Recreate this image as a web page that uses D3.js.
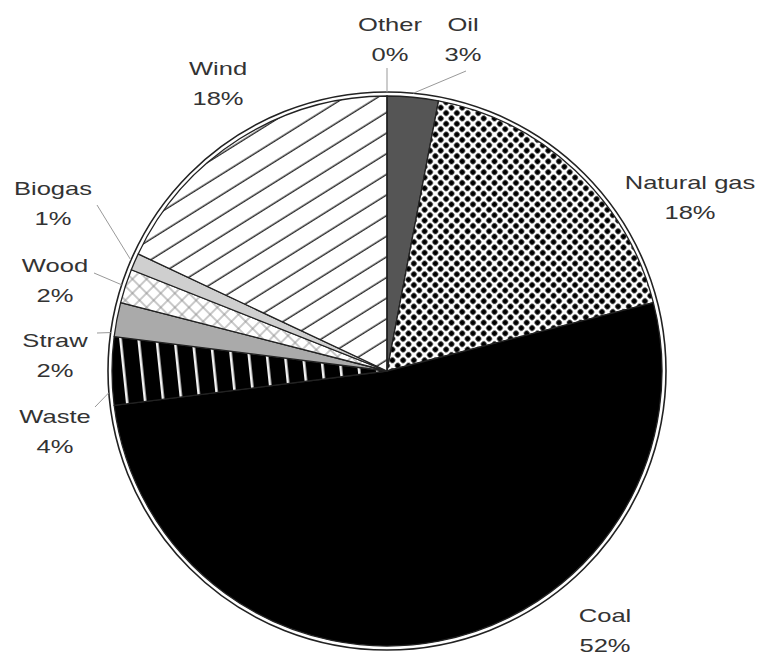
<!DOCTYPE html>
<html>
<head>
<meta charset="utf-8">
<script src="https://cdn.jsdelivr.net/npm/d3@7"></script>
<style>
  html, body { margin: 0; padding: 0; background: #fff; }
  svg { display: block; }
  text { font-family: "Liberation Sans", Arial, sans-serif; fill: #333; }
</style>
</head>
<body>
<svg id="chart" width="760" height="655"></svg>
<script>
// Electricity generation by fuel (share, %), clockwise from 12 o'clock
const categories = ["Oil", "Natural gas", "Coal", "Waste", "Straw", "Wood", "Biogas", "Wind", "Other"];
const shares = [3, 18, 52, 4, 2, 2, 1, 18, 0];
const shareLabels = ["3%", "18%", "52%", "4%", "2%", "2%", "1%", "18%", "0%"];

// Fill of each slice (solid colours or hatch patterns defined below)
const fills = {
  "Oil": "#555",
  "Natural gas": "url(#gasDots)",
  "Coal": "#000",
  "Waste": "url(#wasteStripes)",
  "Straw": "#aaa",
  "Wood": "url(#woodHatch)",
  "Biogas": "#cfcfcf",
  "Wind": "url(#windLines)",
  "Other": "#fff"
};

// Label placement: text centre x, first baseline y, optional leader
// (lx, ly = leader start near the text; t = position of the leader end within the slice)
const labelLayout = {
  "Other":       { x: 390, y: 31 , lx: 387, ly: 68, t: 0.5 },
  "Oil":         { x: 463, y: 31 , lx: 466, ly: 71, t: 0.5 },
  "Natural gas": { x: 690, y: 189 },
  "Coal":        { x: 605, y: 622 },
  "Waste":       { x: 55,  y: 423, lx: 95, ly: 407, t: 0.19 },
  "Straw":       { x: 55,  y: 347, lx: 97, ly: 333, t: 0.1 },
  "Wood":        { x: 55,  y: 272, lx: 94, ly: 273, t: 0.5 },
  "Biogas":      { x: 53,  y: 195, lx: 97, ly: 205, t: 0.5 },
  "Wind":        { x: 218, y: 75 }
};

const cx = 387, cy = 371;
const rSlice = 275, rOuter = 279;
const lineGap = 30, textScaleX = 1.42;

const svg = d3.select("#chart");
const defs = svg.append("defs");

// Natural gas: dark dots on a 45° grid
const gp = 7.6;
const gas = defs.append("pattern").attr("id", "gasDots")
  .attr("patternUnits", "userSpaceOnUse").attr("width", gp).attr("height", gp)
  .attr("patternTransform", "rotate(45)");
gas.append("rect").attr("width", gp).attr("height", gp).attr("fill", "#fff");
gas.append("rect").attr("x", 1.2).attr("y", 1.2).attr("width", gp - 2.4).attr("height", gp - 2.4)
  .attr("rx", 1.6).attr("fill", "#000");

// Waste: white near-vertical stripes on black
const waste = defs.append("pattern").attr("id", "wasteStripes")
  .attr("patternUnits", "userSpaceOnUse").attr("width", 18).attr("height", 18)
  .attr("patternTransform", "rotate(-6)");
waste.append("rect").attr("width", 18).attr("height", 18).attr("fill", "#000");
waste.append("rect").attr("x", 7).attr("y", 0).attr("width", 2.6).attr("height", 18).attr("fill", "#f2f2f2");

// Wood: light diagonal cross-hatch
const wood = defs.append("pattern").attr("id", "woodHatch")
  .attr("patternUnits", "userSpaceOnUse").attr("width", 10).attr("height", 10)
  .attr("patternTransform", "rotate(45)");
wood.append("rect").attr("width", 10).attr("height", 10).attr("fill", "#fff");
wood.append("line").attr("x1", 0).attr("y1", 5).attr("x2", 10).attr("y2", 5)
  .attr("stroke", "#888").attr("stroke-width", 0.9);
wood.append("line").attr("x1", 5).attr("y1", 0).attr("x2", 5).attr("y2", 10)
  .attr("stroke", "#888").attr("stroke-width", 0.9);

// Wind: black lines rising to the right
const wind = defs.append("pattern").attr("id", "windLines")
  .attr("patternUnits", "userSpaceOnUse").attr("width", 17.5).attr("height", 17.5)
  .attr("patternTransform", "rotate(-32)");
wind.append("rect").attr("width", 17.5).attr("height", 17.5).attr("fill", "#fff");
wind.append("line").attr("x1", 0).attr("y1", 8).attr("x2", 17.5).attr("y2", 8)
  .attr("stroke", "#111").attr("stroke-width", 1.3);

const data = categories.map((c, i) => ({ category: c, value: shares[i], label: shareLabels[i] }));

const pie = d3.pie().sort(null).value(d => d.value)
  .startAngle(0).endAngle(2 * Math.PI);
const arcs = pie(data);

const arc = d3.arc().innerRadius(0).outerRadius(rSlice);

const g = svg.append("g").attr("transform", `translate(${cx},${cy})`);

// Outer rim: white band between slices and the outer circle
g.append("circle").attr("r", rOuter).attr("fill", "#fff");

g.selectAll("path.slice")
  .data(arcs)
  .join("path")
  .attr("class", "slice")
  .attr("d", arc)
  .attr("fill", d => fills[d.data.category])
  .attr("stroke", "#222")
  .attr("stroke-width", 1.3)
  .attr("stroke-linejoin", "round");

g.append("circle").attr("r", rOuter).attr("fill", "none")
  .attr("stroke", "#222").attr("stroke-width", 1.6);

// Leader lines
const pointAt = (angle, r) => [cx + r * Math.sin(angle), cy - r * Math.cos(angle)];
arcs.forEach(d => {
  const L = labelLayout[d.data.category];
  if (L.lx === undefined) return;
  const a = d.startAngle + (d.endAngle - d.startAngle) * L.t;
  const [px, py] = pointAt(a, rOuter);
  svg.append("line")
    .attr("x1", L.lx).attr("y1", L.ly).attr("x2", px).attr("y2", py)
    .attr("stroke", "#999").attr("stroke-width", 1);
});

// Labels: category name and share, two lines
arcs.forEach(d => {
  const L = labelLayout[d.data.category];
  [d.data.category, d.data.label].forEach((txt, k) => {
    svg.append("text")
      .attr("transform", `translate(${L.x},${L.y + k * lineGap}) scale(${textScaleX},1)`)
      .attr("text-anchor", "middle")
      .attr("font-size", 18)
      .text(txt);
  });
});
</script>
</body>
</html>
